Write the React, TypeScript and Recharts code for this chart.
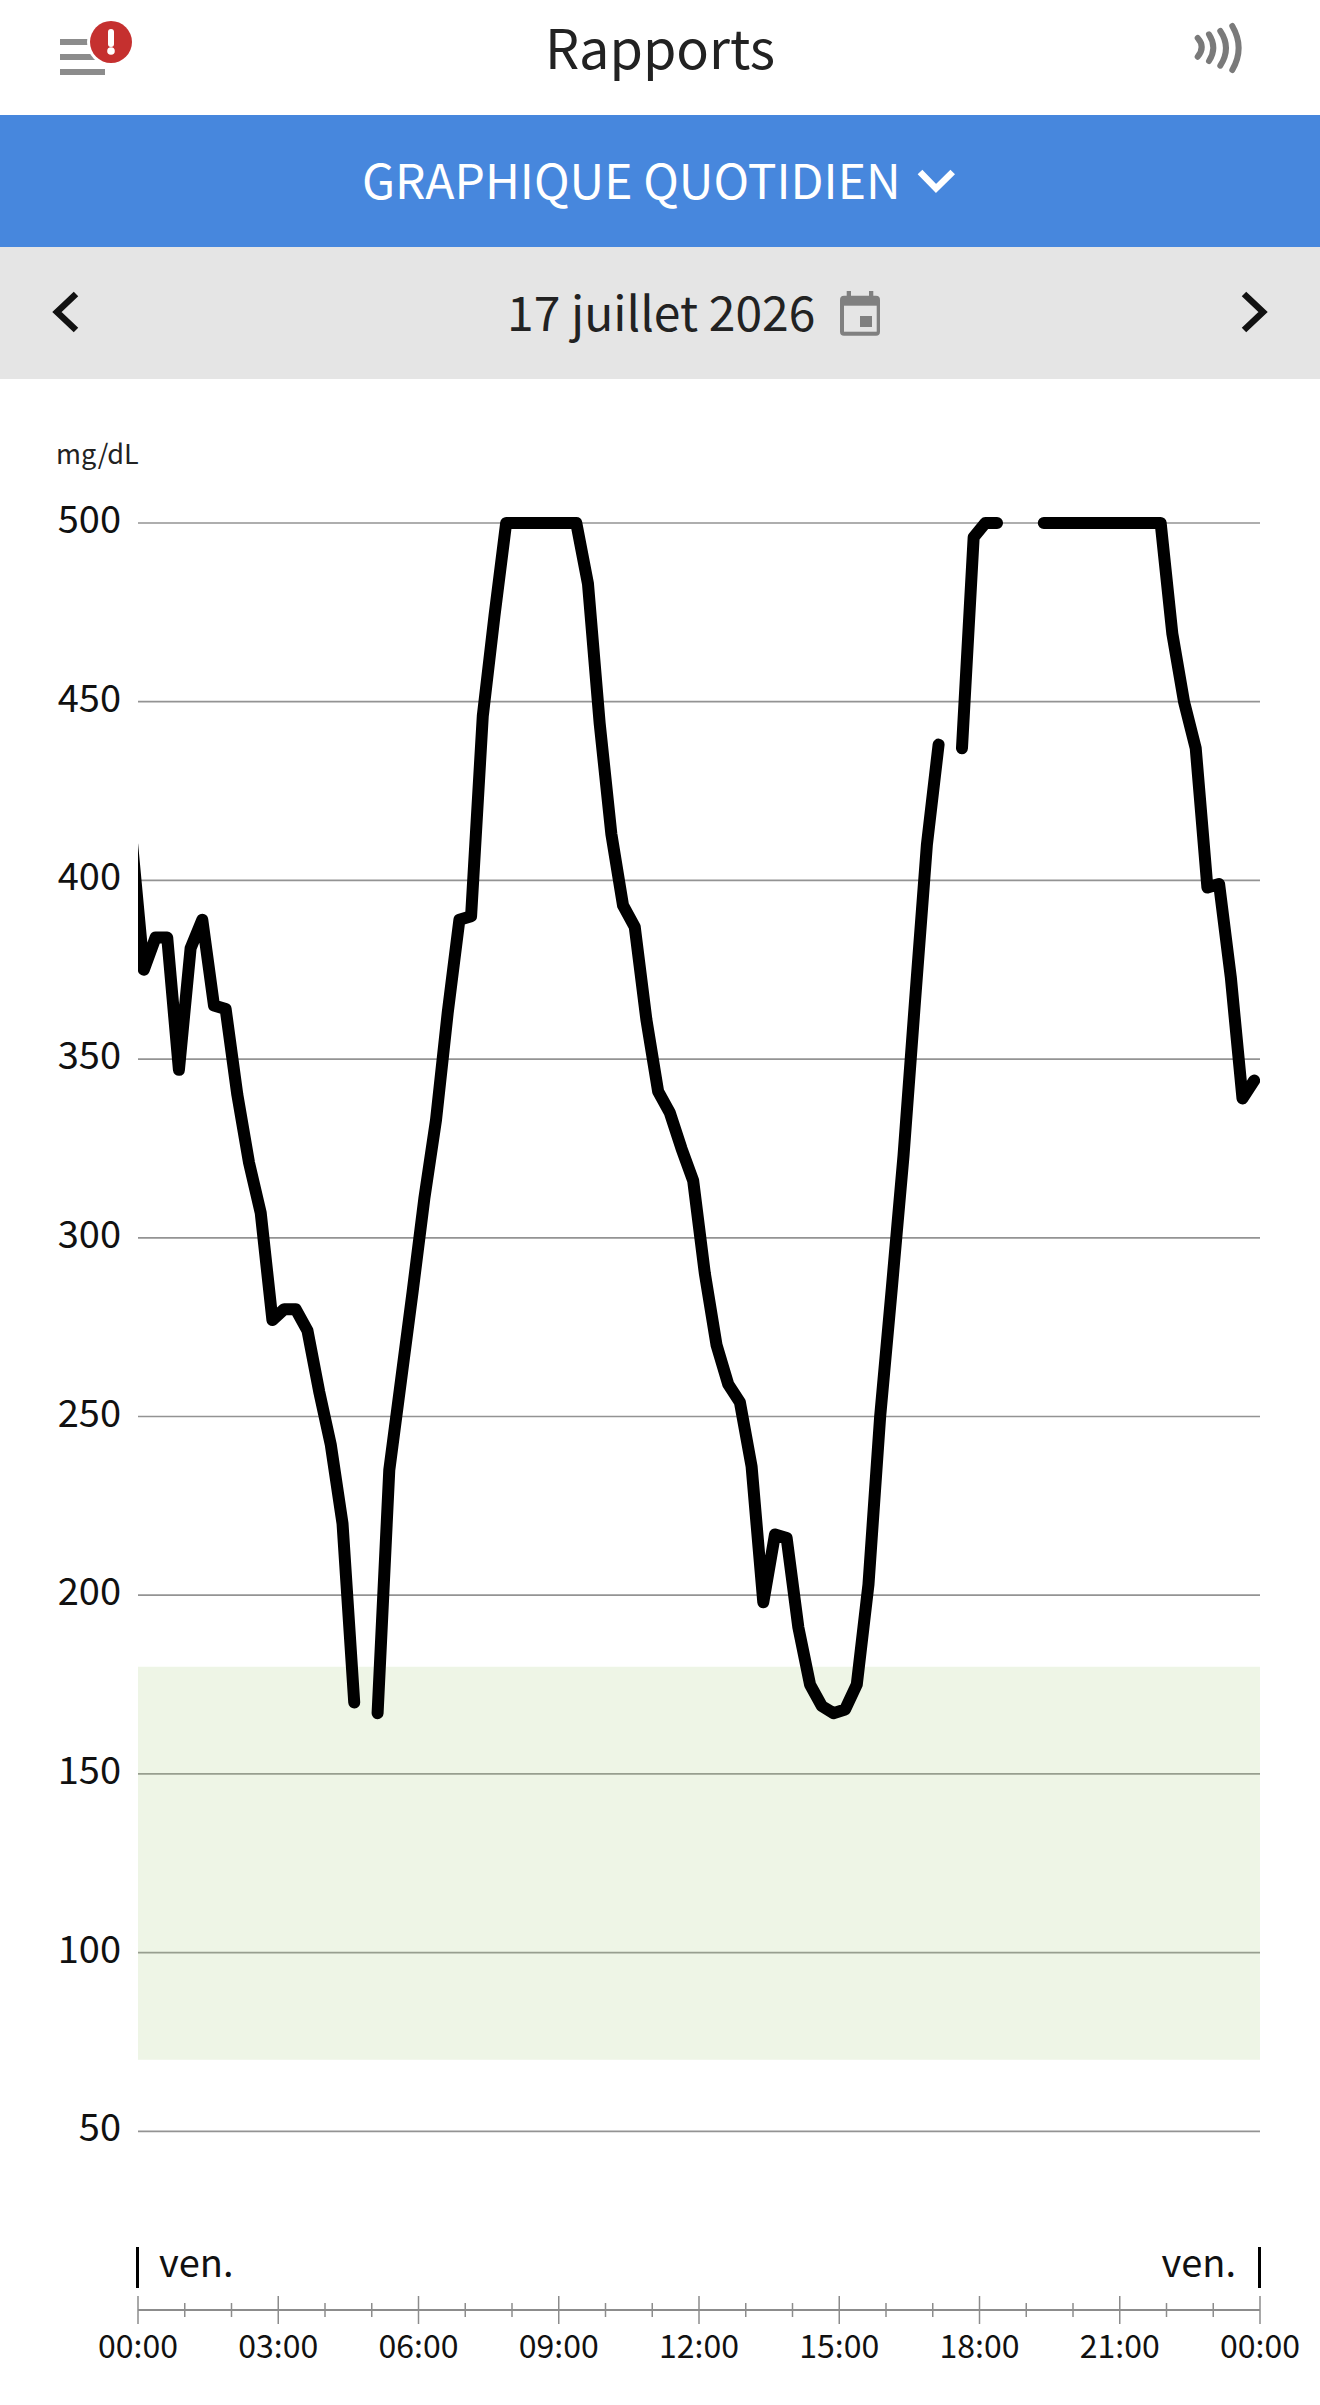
import {
  LineChart,
  Line,
  XAxis,
  YAxis,
  CartesianGrid,
  ReferenceArea,
} from "recharts";

const FONT = '"Noto Sans CJK JP", "Noto Sans", sans-serif';

// readings every 15 minutes, the first one falls just before midnight
const glucose: (number | null)[] = [
  410, 375, 384, 384, 347, 381, 389, 365, 364, 340, 321, 307, 277, 280, 280, 274,
  257, 242, 220, 170, null, 167, 235, 260, 285, 311, 333, 363, 389, 390, 446, 474,
  500, 500, 500, 500, 500, 500, 500, 483, 444, 413, 393, 387, 361, 341, 335, 325,
  316, 290, 270, 259, 254, 236, 198, 217, 216, 191, 175, 169, 167, 168, 175, 203,
  250, 286, 323, 367, 410, 438, null, 437, 496, 500, 500, null, null, null, 500, 500,
  500, 500, 500, 500, 500, 500, 500, 500, 500, 469, 450, 437, 398, 399, 373, 339,
  344,
];

const yTicks = [50, 100, 150, 200, 250, 300, 350, 400, 450, 500];
const hourTicks = [
  0, 60, 120, 180, 240, 300, 360, 420, 480, 540, 600, 660, 720, 780, 840, 900,
  960, 1020, 1080, 1140, 1200, 1260, 1320, 1380, 1440,
];

const chartData = glucose.map((value, index) => ({
  minute: index * 15 - 7.5,
  value,
}));

function hourLabel(minute: number) {
  const hour = (minute / 60) % 24;
  return `${String(hour).padStart(2, "0")}:00`;
}

function HourTick({ x, y, payload }: any) {
  const major = payload.value % 180 === 0;
  const reach = major ? 14 : 7;
  return (
    <g>
      <line x1={x} x2={x} y1={y - reach} y2={y + reach} stroke="#8c8c8c" strokeWidth={1.5} />
      {major && (
        <text
          x={x}
          y={y + 48}
          textAnchor="middle"
          fontFamily={FONT}
          fontSize={32}
          fill="#111"
        >
          {hourLabel(payload.value)}
        </text>
      )}
    </g>
  );
}

function ValueTick({ x, y, payload }: any) {
  return (
    <text x={x} y={y + 10} textAnchor="end" fontFamily={FONT} fontSize={38} fill="#111">
      {payload.value}
    </text>
  );
}

function Label({ style, children }: any) {
  return (
    <div
      style={{
        position: "absolute",
        fontFamily: FONT,
        whiteSpace: "nowrap",
        lineHeight: 1,
        ...style,
      }}
    >
      {children}
    </div>
  );
}

function Chevron({ points, stroke, left, top, width, height }: any) {
  return (
    <svg
      width={width}
      height={height}
      viewBox={`0 0 ${width} ${height}`}
      style={{ position: "absolute", left, top }}
    >
      <polyline points={points} fill="none" stroke={stroke} strokeWidth={6.5} />
    </svg>
  );
}

export default function App() {
  return (
    <div
      style={{
        position: "absolute",
        left: 0,
        top: 0,
        width: 1320,
        height: 2405,
        background: "#fff",
        overflow: "hidden",
      }}
    >
      <style>{"body{margin:0}"}</style>

      <div style={{ position: "absolute", left: 0, right: 0, top: 115, height: 132, background: "#4787DD" }} />
      <div style={{ position: "absolute", left: 0, right: 0, top: 247, height: 132, background: "#E5E5E5" }} />

      <svg width={1320} height={115} style={{ position: "absolute", left: 0, top: 0 }}>
        <rect x={60} y={39} width={45} height={6} fill="#8c8c8c" />
        <rect x={60} y={54} width={45} height={6} fill="#8c8c8c" />
        <rect x={60} y={69} width={45} height={6} fill="#8c8c8c" />
        <circle cx={111} cy={42} r={24} fill="#fff" />
        <circle cx={111} cy={42} r={21} fill="#C5302F" />
        <rect x={108} y={29} width={6} height={18} rx={3} fill="#fff" />
        <circle cx={111} cy={51} r={3.8} fill="#fff" />
        <g fill="none" stroke="#7a7a7a" strokeWidth={6} strokeLinecap="round">
          <path d="M1197.7 38 Q1205.7 47 1197.7 56.7" />
          <path d="M1209 34.3 Q1217.6 47.5 1209 61" />
          <path d="M1220.3 31 Q1231.7 48 1220.3 65.7" />
          <path d="M1232.3 26 Q1245 48 1232.3 70" />
        </g>
      </svg>

      <Label style={{ left: 0, width: 1320, textAlign: "center", top: 19, fontSize: 54, color: "#222" }}>
        Rapports
      </Label>
      <Label style={{ left: 362, top: 154.4, fontSize: 48, color: "#fff" }}>
        GRAPHIQUE QUOTIDIEN
      </Label>
      <Chevron points="4,4 20,20.5 36.7,4" stroke="#fff" left={916} top={168} width={41} height={26} />

      <Label style={{ left: 507, top: 286, fontSize: 48, color: "#222" }}>
        17 juillet 2026
      </Label>
      <svg width={40} height={45} style={{ position: "absolute", left: 840, top: 291 }}>
        <rect x={0} y={4.7} width={40} height={40} rx={4} fill="#808080" />
        <rect x={6.7} y={0} width={4.3} height={8} fill="#808080" />
        <rect x={29} y={0} width={4.3} height={8} fill="#808080" />
        <rect x={4} y={14.7} width={32.7} height={26} fill="#E5E5E5" />
        <rect x={20} y={25} width={12} height={11} fill="#808080" />
      </svg>
      <Chevron points="24,3 5,21 24,39" stroke="#111" left={52} top={291} width={28} height={42} />
      <Chevron points="4,3 23,21 4,39" stroke="#111" left={1240} top={291} width={28} height={42} />

      <Label style={{ left: 56, top: 438.7, fontSize: 27, color: "#222" }}>mg/dL</Label>

      <div style={{ position: "absolute", left: 0, top: 0 }}>
        <LineChart
          width={1320}
          height={2405}
          data={chartData}
          margin={{ top: 523, right: 60, bottom: 0, left: 0 }}
        >
          <CartesianGrid vertical={false} stroke="#939393" strokeWidth={1.7} />
          <ReferenceArea y1={70} y2={180} fill="#A9CC84" fillOpacity={0.2} stroke="none" />
          <XAxis
            dataKey="minute"
            type="number"
            domain={[0, 1440]}
            ticks={hourTicks}
            interval={0}
            allowDataOverflow
            height={95}
            tickSize={0}
            tickMargin={0}
            tick={<HourTick />}
            axisLine={{ stroke: "#8c8c8c", strokeWidth: 2 }}
          />
          <YAxis
            type="number"
            domain={[0, 500]}
            ticks={yTicks}
            interval={0}
            width={138}
            axisLine={false}
            tickLine={false}
            tickSize={0}
            tickMargin={17}
            tick={<ValueTick />}
          />
          <Line
            dataKey="value"
            type="linear"
            stroke="#000"
            strokeWidth={12}
            strokeLinecap="round"
            strokeLinejoin="round"
            dot={false}
            activeDot={false}
            isAnimationActive={false}
          />
        </LineChart>
      </div>

      <div style={{ position: "absolute", left: 136, top: 2247, width: 3, height: 41, background: "#000" }} />
      <div style={{ position: "absolute", left: 1258, top: 2247, width: 3, height: 41, background: "#000" }} />
      <Label style={{ left: 159, top: 2242.4, fontSize: 38, color: "#111" }}>ven.</Label>
      <Label style={{ right: 84, top: 2242.4, fontSize: 38, color: "#111" }}>ven.</Label>
    </div>
  );
}
